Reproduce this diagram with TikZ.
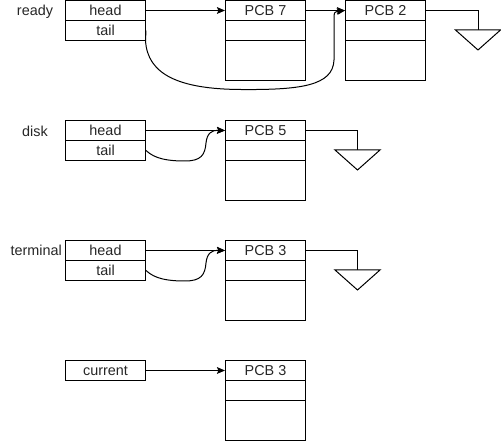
\documentclass[tikz,border=0pt]{standalone}
\usepackage{fontspec}
\setmainfont{Liberation Sans}
\usetikzlibrary{arrows.meta}
\begin{document}
\begin{tikzpicture}[x=0.75pt,y=-0.75pt,
  cell/.style={draw=black,line width=0.75pt,minimum width=60pt,minimum height=15pt,inner sep=0pt,anchor=north west,font=\fontsize{10.8pt}{12pt}\selectfont,text=black!85},
  bigcell/.style={cell,minimum height=30pt},
  lbl/.style={font=\fontsize{10.8pt}{12pt}\selectfont,text=black!85,inner sep=0pt},
  link/.style={line width=0.75pt,-{Stealth[length=6pt,width=5pt,inset=1pt]}},
  wire/.style={line width=0.75pt},
  gnd/.style={line width=0.75pt,draw=black,fill=white}]
\useasboundingbox (0,0) rectangle (501,441);

% ---------- ready ----------
\node[lbl] (rl) at (35,12) {ready};
\node[cell] (rh) at (65,0) {head};
\node[cell] (rt) at (65,20) {tail};
\node[cell] (p7) at (225,0) {PCB 7};
\node[cell] (p7b) at (225,20) {};
\node[bigcell] (p7c) at (225,40) {};
\node[cell] (p2) at (345,0) {PCB 2};
\node[cell] (p2b) at (345,20) {};
\node[bigcell] (p2c) at (345,40) {};
\coordinate (g1) at (478,30);
\draw[link] (rh.east) -- (p7.west);
\draw[link] (p7.east) -- (p2.west);
\draw[link] (rt.east) -- (145.5,40) .. controls (147,75) and (180,89) .. (240,89.5)
  .. controls (300,90) and (333,86) .. (334,60) -- (334,20) .. controls (334,12) .. (p2.west);
\draw[wire] (p2.east) -| (g1);
\draw[gnd] (g1) -- ++(22.5,0) -- ++(-22.5,20) -- ++(-22.5,-20) -- cycle;

% ---------- disk ----------
\node[lbl] (dl) at (35,131) {disk};
\node[cell] (dh) at (65,120) {head};
\node[cell] (dt) at (65,140) {tail};
\node[cell] (p5) at (225,120) {PCB 5};
\node[cell] (p5b) at (225,140) {};
\node[bigcell] (p5c) at (225,160) {};
\coordinate (g2) at (357.5,150);
\draw[link] (dh.east) -- (p5.west);
\draw[link] (dt.east) .. controls (155,159) and (168,161) .. (185,161)
  .. controls (201,161) and (205,155) .. (206,143) .. controls (207,133) and (212,130) .. (p5.west);
\draw[wire] (p5.east) -| (g2);
\draw[gnd] (g2) -- ++(22.5,0) -- ++(-22.5,20) -- ++(-22.5,-20) -- cycle;

% ---------- terminal ----------
\node[lbl,anchor=east] (tl) at (62,250) {terminal};
\node[cell] (th) at (65,240) {head};
\node[cell] (tt) at (65,260) {tail};
\node[cell] (p3) at (225,240) {PCB 3};
\node[cell] (p3b) at (225,260) {};
\node[bigcell] (p3c) at (225,280) {};
\coordinate (g3) at (357.5,270);
\draw[link] (th.east) -- (p3.west);
\draw[link] (tt.east) .. controls (155,279) and (168,281) .. (185,281)
  .. controls (201,281) and (205,275) .. (206,263) .. controls (207,253) and (212,250) .. (p3.west);
\draw[wire] (p3.east) -| (g3);
\draw[gnd] (g3) -- ++(22.5,0) -- ++(-22.5,20) -- ++(-22.5,-20) -- cycle;

% ---------- current ----------
\node[cell] (cur) at (65,360) {current};
\node[cell] (q3) at (225,360) {PCB 3};
\node[cell] (q3b) at (225,380) {};
\node[bigcell] (q3c) at (225,400) {};
\draw[link] (cur.east) -- (q3.west);
\end{tikzpicture}
\end{document}
